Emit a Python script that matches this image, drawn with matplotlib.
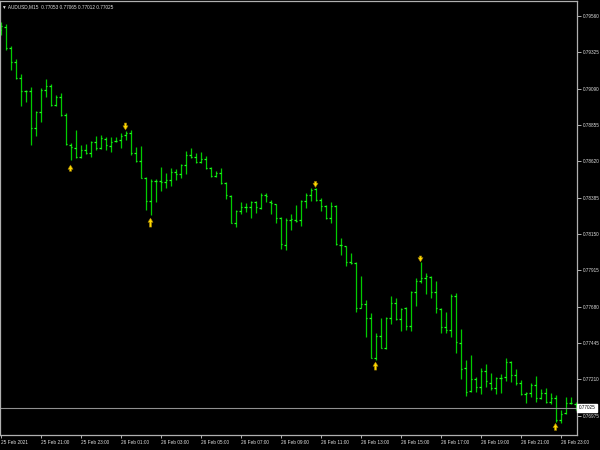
import matplotlib
matplotlib.use("Agg")
import matplotlib.pyplot as plt
import matplotlib.transforms as mtransforms
import numpy as np

plt.rcParams['font.family'] = ['Liberation Sans', 'DejaVu Sans']

# AUDUSD M15 bars, 25 Feb 2021 19:00 -> 26 Feb 2021 23:45
opens = [
    0.79470, 0.79491, 0.79353, 0.79263, 0.79159, 0.79077, 0.79077, 0.78838, 0.78939, 0.79081,
    0.79107, 0.78984, 0.79036, 0.78920, 0.78726, 0.78708, 0.78650, 0.78693, 0.78676, 0.78743,
    0.78708, 0.78764, 0.78719, 0.78752, 0.78758, 0.78790, 0.78801, 0.78672, 0.78624, 0.78510,
    0.78365, 0.78493, 0.78493, 0.78488, 0.78499, 0.78549, 0.78536, 0.78596, 0.78661, 0.78650,
    0.78618, 0.78635, 0.78575, 0.78527, 0.78547, 0.78482, 0.78398, 0.78219, 0.78301, 0.78327,
    0.78325, 0.78359, 0.78320, 0.78402, 0.78359, 0.78342, 0.78252, 0.78079, 0.78240, 0.78240,
    0.78240, 0.78365, 0.78402, 0.78439, 0.78368, 0.78331, 0.78252, 0.78331, 0.78079, 0.78072,
    0.77967, 0.77964, 0.77673, 0.77697, 0.77605, 0.77346, 0.77490, 0.77411, 0.77605, 0.77702,
    0.77598, 0.77669, 0.77557, 0.77777, 0.77848, 0.77864, 0.77874, 0.77773, 0.77665, 0.77550,
    0.77529, 0.77749, 0.77447, 0.77281, 0.77135, 0.77210, 0.77159, 0.77266, 0.77188, 0.77152,
    0.77217, 0.77227, 0.77324, 0.77238, 0.77184, 0.77113, 0.77120, 0.77173, 0.77087, 0.77124,
    0.77065, 0.77087, 0.76947, 0.76990, 0.77059, 0.77053]
highs = [
    0.79519, 0.79508, 0.79366, 0.79282, 0.79185, 0.79081, 0.79101, 0.78946, 0.79094, 0.79153,
    0.79120, 0.79049, 0.79062, 0.78933, 0.78739, 0.78823, 0.78726, 0.78732, 0.78752, 0.78784,
    0.78790, 0.78775, 0.78777, 0.78779, 0.78805, 0.78818, 0.78823, 0.78715, 0.78719, 0.78521,
    0.78506, 0.78504, 0.78581, 0.78547, 0.78579, 0.78569, 0.78603, 0.78687, 0.78708, 0.78676,
    0.78678, 0.78655, 0.78585, 0.78559, 0.78579, 0.78486, 0.78402, 0.78305, 0.78359, 0.78349,
    0.78365, 0.78365, 0.78417, 0.78417, 0.78370, 0.78344, 0.78262, 0.78252, 0.78277, 0.78338,
    0.78370, 0.78413, 0.78446, 0.78447, 0.78381, 0.78338, 0.78359, 0.78338, 0.78122, 0.78075,
    0.78025, 0.77967, 0.77878, 0.77723, 0.77637, 0.77508, 0.77605, 0.77611, 0.77749, 0.77734,
    0.77669, 0.77676, 0.77781, 0.77864, 0.77967, 0.77900, 0.77878, 0.77846, 0.77673, 0.77647,
    0.77760, 0.77766, 0.77534, 0.77335, 0.77367, 0.77223, 0.77281, 0.77309, 0.77249, 0.77227,
    0.77243, 0.77350, 0.77331, 0.77275, 0.77206, 0.77130, 0.77184, 0.77232, 0.77146, 0.77152,
    0.77120, 0.77109, 0.77012, 0.77098, 0.77098, 0.77065]
lows = [
    0.79437, 0.79340, 0.79211, 0.79153, 0.78980, 0.79006, 0.78728, 0.78786, 0.78876, 0.79038,
    0.78978, 0.78978, 0.78913, 0.78726, 0.78629, 0.78644, 0.78644, 0.78667, 0.78650, 0.78693,
    0.78698, 0.78693, 0.78682, 0.78743, 0.78704, 0.78758, 0.78661, 0.78618, 0.78510, 0.78305,
    0.78273, 0.78359, 0.78430, 0.78446, 0.78462, 0.78499, 0.78510, 0.78538, 0.78644, 0.78607,
    0.78607, 0.78569, 0.78521, 0.78517, 0.78473, 0.78374, 0.78219, 0.78193, 0.78279, 0.78294,
    0.78252, 0.78288, 0.78310, 0.78359, 0.78277, 0.78219, 0.78051, 0.78046, 0.78176, 0.78230,
    0.78204, 0.78316, 0.78365, 0.78365, 0.78301, 0.78245, 0.78223, 0.78079, 0.78014, 0.77943,
    0.77954, 0.77647, 0.77669, 0.77482, 0.77346, 0.77335, 0.77411, 0.77409, 0.77568, 0.77594,
    0.77523, 0.77529, 0.77523, 0.77684, 0.77831, 0.77762, 0.77734, 0.77637, 0.77508, 0.77508,
    0.77486, 0.77382, 0.77210, 0.77102, 0.77130, 0.77130, 0.77115, 0.77162, 0.77141, 0.77115,
    0.77120, 0.77201, 0.77195, 0.77173, 0.77109, 0.77059, 0.77098, 0.77065, 0.77081, 0.77059,
    0.77050, 0.76934, 0.76926, 0.76986, 0.77050, 0.77012]
closes = [
    0.79495, 0.79353, 0.79263, 0.79159, 0.79077, 0.79075, 0.78838, 0.78941, 0.79081, 0.79107,
    0.78984, 0.79036, 0.78920, 0.78732, 0.78713, 0.78650, 0.78693, 0.78676, 0.78743, 0.78708,
    0.78769, 0.78726, 0.78747, 0.78753, 0.78784, 0.78805, 0.78672, 0.78624, 0.78514, 0.78365,
    0.78493, 0.78491, 0.78488, 0.78499, 0.78549, 0.78536, 0.78596, 0.78661, 0.78650, 0.78618,
    0.78635, 0.78575, 0.78527, 0.78547, 0.78482, 0.78402, 0.78222, 0.78301, 0.78327, 0.78325,
    0.78359, 0.78327, 0.78402, 0.78398, 0.78349, 0.78255, 0.78083, 0.78240, 0.78245, 0.78234,
    0.78365, 0.78402, 0.78435, 0.78368, 0.78331, 0.78252, 0.78331, 0.78083, 0.78077, 0.77967,
    0.77965, 0.77673, 0.77697, 0.77605, 0.77348, 0.77490, 0.77413, 0.77605, 0.77702, 0.77598,
    0.77667, 0.77557, 0.77773, 0.77846, 0.77864, 0.77878, 0.77773, 0.77669, 0.77550, 0.77529,
    0.77749, 0.77453, 0.77275, 0.77130, 0.77210, 0.77159, 0.77266, 0.77199, 0.77152, 0.77217,
    0.77221, 0.77324, 0.77238, 0.77184, 0.77113, 0.77120, 0.77173, 0.77087, 0.77124, 0.77065,
    0.77087, 0.76947, 0.76986, 0.77059, 0.77055, 0.77025]

# fractal arrows (bar index, tail price, tip price)
up_bars = [14, 30, 75, 111]
up_tail = [0.78556, 0.78195, 0.77270, 0.76880]
up_tip = [0.78596, 0.78253, 0.77322, 0.76925]
down_bars = [25, 63, 84]
down_tail = [0.78868, 0.78490, 0.78008]
down_tip = [0.78823, 0.78452, 0.77970]

price_ticks = [0.79560, 0.79325, 0.79090, 0.78855, 0.78620, 0.78385,
               0.78150, 0.77915, 0.77680, 0.77445, 0.77210, 0.76975]
time_labels = ["25 Feb 2021", "25 Feb 21:00", "25 Feb 23:00", "26 Feb 01:00",
               "26 Feb 03:00", "26 Feb 05:00", "26 Feb 07:00", "26 Feb 09:00",
               "26 Feb 11:00", "26 Feb 13:00", "26 Feb 15:00", "26 Feb 17:00",
               "26 Feb 19:00", "26 Feb 21:00", "26 Feb 23:00"]

fig = plt.figure(figsize=(6, 4.5), dpi=100, facecolor="black")
ax = fig.add_axes([0.0, 0.0333, 0.9617, 0.9644], facecolor="black")

idx = np.arange(len(closes))
bar_col = "#00cc00"
tick_col = "#22ff22"
ax.vlines(idx, lows, highs, color=bar_col, lw=0.9)
ax.hlines(opens, idx - 0.38, idx, color=tick_col, lw=0.9)
ax.hlines(closes, idx, idx + 0.38, color=tick_col, lw=0.9)

# arrows
astyle = "simple,head_width=0.6,head_length=0.5,tail_width=0.26"
for b, t0, t1 in zip(up_bars + down_bars, up_tail + down_tail, up_tip + down_tip):
    ax.annotate("", xy=(b, t1), xytext=(b, t0),
                arrowprops=dict(arrowstyle=astyle, mutation_scale=6,
                                fc="#ffd800", ec="#a08000", lw=0.4,
                                shrinkA=0, shrinkB=0))

# current price line
ax.axhline(closes[-1], color="#909090", lw=0.8)

ax.set_xlim(-0.1, 115.3)
ax.set_ylim(0.76850, 0.79657)

for s in ax.spines.values():
    s.set_color("#b0b0b0")
    s.set_linewidth(0.9)

ax.yaxis.tick_right()
ax.set_yticks(price_ticks)
ax.set_yticklabels([f"{p:.5f}" for p in price_ticks])
ax.tick_params(axis="y", direction="out", length=3, width=0.7, color="#b0b0b0",
               pad=1.2, labelsize=3.3, labelcolor="#e0e0e0")

ax.set_xticks(np.arange(0, 8 * len(time_labels), 8))
ax.set_xticklabels(time_labels)
ax.tick_params(axis="x", direction="out", length=2, width=0.7, color="#b0b0b0",
               pad=1.5, labelsize=3.4, labelcolor="#e0e0e0")
for lbl in ax.get_xticklabels():
    lbl.set_ha("left")

# price box
trans = mtransforms.blended_transform_factory(ax.transAxes, ax.transData)
ax.text(1.003, closes[-1], f"{closes[-1]:.5f}", transform=trans, fontsize=3.3,
        color="black", va="center", ha="left", clip_on=False,
        bbox=dict(boxstyle="square,pad=0.35", fc="white", ec="white"))

header = "\u25bc AUDUSD,M15  {:.5f} {:.5f} {:.5f} {:.5f}".format(
    opens[-1], highs[-1], lows[-1], closes[-1])
fig.text(0.004, 1 - 7 / 450, header, fontsize=3.4, color="#e0e0e0", va="center")

fig.savefig("out.png", dpi=100, facecolor="black")
